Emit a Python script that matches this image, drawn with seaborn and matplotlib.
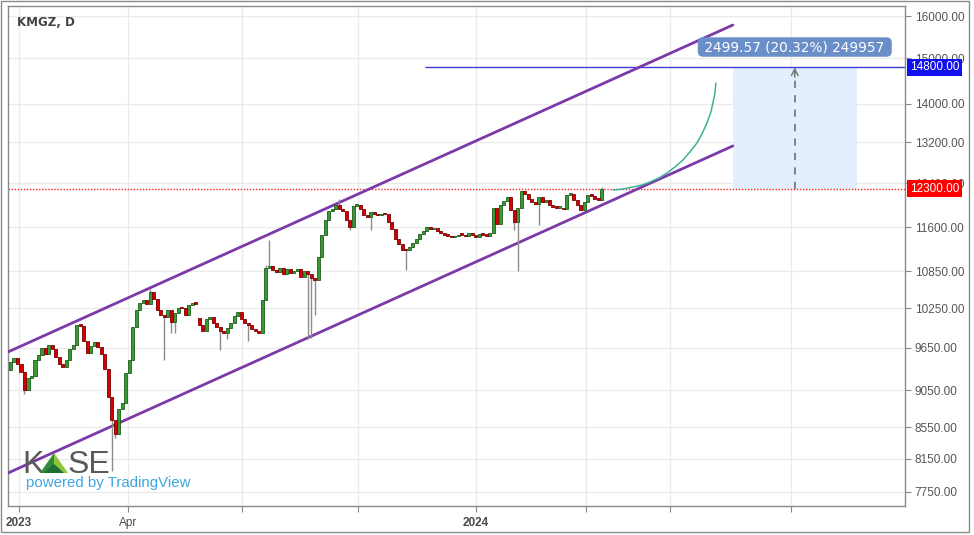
import numpy as np
import pandas as pd
import matplotlib
matplotlib.use("Agg")
import matplotlib.pyplot as plt
import matplotlib.patches as mpatches
from matplotlib.transforms import blended_transform_factory, offset_copy
from matplotlib.ticker import FuncFormatter, NullLocator
import seaborn as sns

# ---------------- data ----------------
closes = [
    9450, 9500, 9420, 9300, 9050, 9220, 9250, 9480, 9550, 9650,
    9560, 9700, 9640, 9520, 9420, 9380, 9480, 9640, 9690, 9990,
    9980, 9760, 9580, 9680, 9740, 9670, 9560, 9350, 8960, 8650,
    8470, 8800, 8880, 9290, 9480, 9960, 10225, 10330, 10380, 10320,
    10510, 10400, 10220, 10150, 10120, 10225, 10045, 10180, 10256, 10250,
    10150, 10303, 10335, 10320, 9990, 9900, 10090, 10110, 10020, 9960,
    9900, 9880, 9950, 10030, 10130, 10200, 10080, 10020, 9990, 9940,
    9900, 9880, 10382, 10900, 10930, 10870, 10840, 10900, 10800, 10880,
    10820, 10850, 10880, 10760, 10850, 10800, 10740, 10700, 11080, 11460,
    11720, 11880, 11930, 12000, 11920, 11880, 11720, 11600, 11980, 12000,
    11930, 11820, 11780, 11870, 11840, 11810, 11840, 11830, 11700, 11560,
    11400, 11300, 11210, 11200, 11260, 11320, 11400, 11480, 11540, 11600,
    11560, 11580, 11530, 11500, 11460, 11450, 11420, 11440, 11470, 11460,
    11440, 11490, 11470, 11430, 11480, 11470, 11450, 11500, 11950, 11650,
    12000, 12080, 12150, 11900, 11700, 11950, 12250, 12200, 12110, 12050,
    12020, 12150, 12050, 12090, 12000, 11960, 11950, 11950, 11920, 12180,
    12200, 12090, 11990, 11900, 12050, 12180, 12170, 12100, 12090, 12300,
]
first_open = 9330
gap_opens = {54: 10100}
wick_highs = {40: 10560, 73: 10950, 74: 11380, 94: 12110, 169: 12330}
wick_lows = {4: 9000, 29: 8000, 30: 8420, 44: 9480, 46: 9880, 47: 9880,
             60: 9620, 62: 9780, 68: 9760, 85: 9780, 86: 9800, 87: 10150,
             97: 11550, 103: 11550, 113: 10870, 144: 11550, 145: 10850,
             151: 11640}

y_ticks = [16000, 15000, 14000, 13200, 12400, 11600, 10850, 10250,
           9650, 9050, 8550, 8150, 7750]
x_tick_pos = [2.43, 33.6, 66.1, 99.3, 133.0, 164.4, 188.4, 223.0]
x_tick_labels = ["2023", "Apr", "", "", "2024", "", "", ""]
x_tick_bold = [True, False, False, False, True, False, False, False]

channel_x = [-0.714, 206.4]
channel_upper = [9592, 15782]
channel_lower = [7977, 13127]

curve_x = [172.14, 175.0, 177.86, 180.43, 182.71, 185.29, 187.57, 189.86,
           192.14, 194.14, 196.14, 197.57, 199.0, 200.14, 200.71, 201.29, 201.57]
curve_y = [12275, 12294, 12332, 12369, 12426, 12502, 12597, 12713,
           12849, 13007, 13186, 13368, 13594, 13824, 14014, 14230, 14448]

target_level = 14800
target_start_x = 118.4
base_level = 12300
range_x = [206.4, 241.9]
arrow_x = 224.1
measure_label_y = 15262
measure_text = "2499.57 (20.32%) 249957"
title = "KMGZ, D"
x_limits = [-0.714, 255.6]
y_limits = [7586, 16246]

# ---------------- frame ----------------
df = pd.DataFrame({"close": closes})
opens = [first_open] + closes[:-1]
for k, v in gap_opens.items():
    opens[k] = v
df["open"] = opens
df["high"] = [wick_highs.get(i, max(o, c)) for i, (o, c) in enumerate(zip(opens, closes))]
df["low"] = [wick_lows.get(i, min(o, c)) for i, (o, c) in enumerate(zip(opens, closes))]
df["idx"] = np.arange(len(df))
df["up"] = df["close"] >= df["open"]
df["bot"] = df[["open", "close"]].min(axis=1)
df["h"] = (df["close"] - df["open"]).abs()
df["h"] = np.maximum(df["h"], df["bot"] * 0.0025)

sns.set_theme(style="whitegrid")
plt.rcParams["font.family"] = ["Liberation Sans", "DejaVu Sans"]

fig = plt.figure(figsize=(9.74, 5.35), dpi=100)
ax = fig.add_axes([8 / 974, 1 - 506 / 535, 897 / 974, 500 / 535])
ax.set_facecolor("white")

ax.set_yscale("log")
ax.set_xlim(*x_limits)
ax.set_ylim(*y_limits)

# grid
ax.grid(True, color="#ebebeb", lw=1)
ax.set_axisbelow(True)

# range rectangle
ax.fill_between(range_x, base_level, target_level, color="#e3effd", lw=0, zorder=1)

# base level dotted line
ax.axhline(base_level, color="#ff2020", ls=(0, (1, 1.2)), lw=1, zorder=2)
# target line
ax.hlines(target_level, target_start_x, x_limits[1], color="#3b3be0", lw=1, zorder=2)

# channel
sns.lineplot(x=channel_x, y=channel_upper, ax=ax, color="#7b3aa8", lw=2, zorder=3)
sns.lineplot(x=channel_x, y=channel_lower, ax=ax, color="#7b3aa8", lw=2, zorder=3)

# projection curve
ax.plot(curve_x, curve_y, color="#3bb09a", lw=1.1, zorder=3)

# candles
ax.vlines(df["idx"], df["low"], df["high"], color="#8c8c8c", lw=1, zorder=4)
upd = df[df["up"]]
dnd = df[~df["up"]]
ax.bar(upd["idx"], upd["h"], bottom=upd["bot"], width=0.86, color="#3a9a32",
       edgecolor="#1f5e1b", lw=0.6, zorder=5)
ax.bar(dnd["idx"], dnd["h"], bottom=dnd["bot"], width=0.86, color="#d60000",
       edgecolor="#7a0000", lw=0.6, zorder=5)

# measure arrow
ax.vlines(arrow_x, base_level, target_level * 0.995, color="#7a7a7a", lw=1.3,
          linestyles=(0, (4, 4)), zorder=6)
ax.annotate("", xy=(arrow_x, target_level), xytext=(arrow_x, target_level * 0.985),
            arrowprops=dict(arrowstyle="->", color="#7a7a7a", lw=1.1,
                            shrinkA=0, shrinkB=0), zorder=6)
ax.text(arrow_x, measure_label_y, " " + measure_text + " ", ha="center", va="center",
        color="white", fontsize=9.8, family="DejaVu Sans", zorder=10,
        bbox=dict(boxstyle="round,pad=0.2,rounding_size=0.4", fc="#6a8fc8", ec="none"))

# axes styling
ax.yaxis.tick_right()
ax.set_yticks(y_ticks)
ax.yaxis.set_minor_locator(NullLocator())
ax.yaxis.set_major_formatter(FuncFormatter(lambda v, p: f"{v:.2f}"))
ax.set_xticks(x_tick_pos)
ax.set_xticklabels(x_tick_labels)
for lab, b in zip(ax.get_xticklabels(), x_tick_bold):
    lab.set_fontweight("bold" if b else "normal")
ax.tick_params(axis="y", which="major", right=True, left=False, labelright=True,
               labelleft=False, length=4, width=0.8, color="#8a8a8a",
               labelcolor="#555555", labelsize=8.5, pad=3)
ax.tick_params(axis="x", which="major", bottom=True, length=4, width=0.8,
               color="#8a8a8a", labelcolor="#4a4a4a", labelsize=8.5, pad=4)
for s in ax.spines.values():
    s.set_visible(True)
    s.set_color("#8a8a8a")
    s.set_linewidth(1)

# price labels on axis
bt = blended_transform_factory(ax.transAxes, ax.transData)
bt_off = offset_copy(bt, fig=fig, x=5, y=0, units="dots")
ax.text(1.0, target_level, f"{target_level:.2f}", transform=bt_off, ha="left",
        va="center", color="white", fontsize=8.5, zorder=20, clip_on=False,
        bbox=dict(boxstyle="square,pad=0.22", fc="#1010f0", ec="none"))
ax.text(1.0, base_level, f"{base_level:.2f}", transform=bt_off, ha="left",
        va="center", color="white", fontsize=8.5, zorder=20, clip_on=False,
        bbox=dict(boxstyle="square,pad=0.22", fc="#ff0000", ec="none"))

# title
ax.text(9 / 897, 1 - 16 / 500, title, transform=ax.transAxes, ha="left", va="center",
        fontsize=8.6, fontweight="bold", color="#444444", family="DejaVu Sans", zorder=20)

# logo
ax.text((22 - 8) / 897, (506 - 473) / 500, "K", transform=ax.transAxes, ha="left",
        va="baseline", fontsize=23, color="#5a5a5a", zorder=20)
ax.text((68 - 8) / 897, (506 - 473) / 500, "SE", transform=ax.transAxes, ha="left",
        va="baseline", fontsize=23, color="#5a5a5a", zorder=20)
tri_l = mpatches.Polygon([[(40 - 8) / 897, 33 / 500], [(54 - 8) / 897, 53 / 500],
                          [(54 - 8) / 897, 33 / 500]], closed=True,
                         transform=ax.transAxes, fc="#2e8b3a", ec="none", zorder=20)
tri_r = mpatches.Polygon([[(54 - 8) / 897, 53 / 500], [(68 - 8) / 897, 33 / 500],
                          [(54 - 8) / 897, 33 / 500]], closed=True,
                         transform=ax.transAxes, fc="#8cc63f", ec="none", zorder=20)
tri_b = mpatches.Polygon([[(44 - 8) / 897, 33 / 500], [(54 - 8) / 897, 42 / 500],
                          [(64 - 8) / 897, 33 / 500]], closed=True,
                         transform=ax.transAxes, fc="#1d6e30", ec="none", zorder=21)
for t in (tri_l, tri_r, tri_b):
    ax.add_patch(t)
ax.text((26 - 8) / 897, (506 - 487) / 500, "powered by TradingView", transform=ax.transAxes,
        ha="left", va="baseline", fontsize=10.8, color="#3ea6e0", zorder=20)

# outer border
fig.patches.append(mpatches.Rectangle((0.0008, 0.005), 0.994, 0.994, transform=fig.transFigure,
                                      fill=False, ec="#8a8a8a", lw=1))

fig.savefig("out.png", dpi=100)
